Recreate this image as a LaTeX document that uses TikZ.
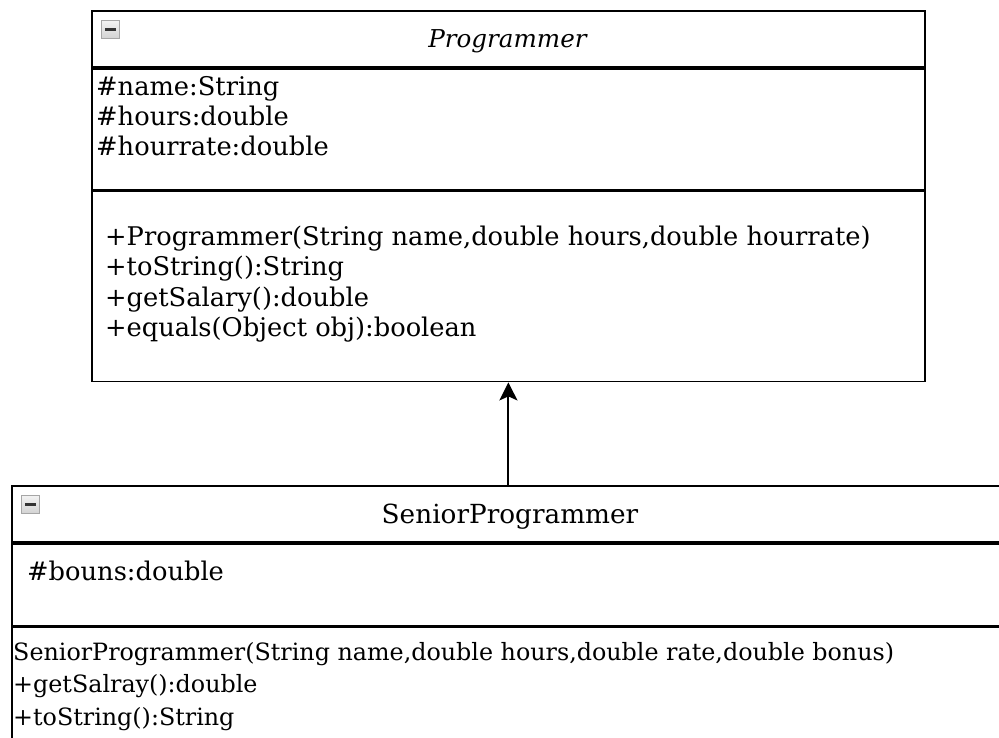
\documentclass[tikz,border=0pt]{standalone}
\usepackage{fontspec}
\setmainfont{DejaVu Serif}
\usetikzlibrary{arrows.meta}

\tikzset{
  part/.style={draw, line width=1.8pt, anchor=north west, inner sep=0pt},
  member/.style={anchor=base west, inner sep=0pt, font=\fontsize{25.7}{30}\selectfont},
  smallmember/.style={member, font=\fontsize{23.8}{28}\selectfont},
  classname/.style={anchor=base, inner sep=0pt, font=\fontsize{26.3}{30}\selectfont},
  foldicon/.style={draw=gray!70, line width=1pt, top color=gray!10, bottom color=gray!35,
    minimum size=18pt, inner sep=0pt, anchor=north west}
}

\begin{document}
\begin{tikzpicture}[x=1pt,y=-1pt]
        \useasboundingbox (0,0) rectangle (999,738);
        \clip (0,0) rectangle (999,738);

        % Programmer
        \node[part, minimum width=833pt, minimum height=56pt] (ptitle) at (91,10) {};
        \node[part, minimum width=833pt, minimum height=121pt] (pattr) at (ptitle.south west) {};
        \node[part, minimum width=833pt, minimum height=190pt] (pmeth) at (pattr.south west) {};
        \node[foldicon] (picon) at (101,20) {};
        \draw[line width=3pt, gray!40!black] ([xshift=4pt]picon.west) -- ([xshift=-4pt]picon.east);
        \node[classname, font=\fontsize{24.6}{28}\selectfont\itshape] (pname) at (507.5,48) {Programmer};
        \foreach \t [count=\i] in {\#name:String,\#hours:double,\#hourrate:double}
        \node[member] (pa\i) at (96,65.5+30*\i) {\t};
        \foreach \t [count=\i] in {{+Programmer(String name,double hours,double hourrate)},
                +toString():String,+getSalary():double,+equals(Object obj):boolean}
        \node[member] (pm\i) at (105,216+30*\i) {\t};

        % SeniorProgrammer
        \node[part, minimum width=998pt, minimum height=56pt] (sptitle) at (11,485) {};
        \node[part, minimum width=998pt, minimum height=82pt] (spattr) at (sptitle.south west) {};
        \node[part, minimum width=998pt, minimum height=160pt] (spmeth) at (spattr.south west) {};
        \node[foldicon] (spicon) at (21,495) {};
        \draw[line width=3pt, gray!40!black] ([xshift=4pt]spicon.west) -- ([xshift=-4pt]spicon.east);
        \node[classname] (spname) at (510,523) {SeniorProgrammer};
        \node[member] (spa1) at (27,580) {\#bouns:double};
        \foreach \t [count=\i] in {{SeniorProgrammer(String name,double hours,double rate,double bonus)},
                +getSalray():double,+toString():String}
        \node[smallmember] (spm\i) at (13,627.5+32.5*\i) {\t};

        \draw[line width=2pt, -{Stealth[length=18pt,width=18pt,inset=4pt]}]
                (sptitle.north -| pmeth.south) -- (pmeth.south);
\end{tikzpicture}
\end{document}
